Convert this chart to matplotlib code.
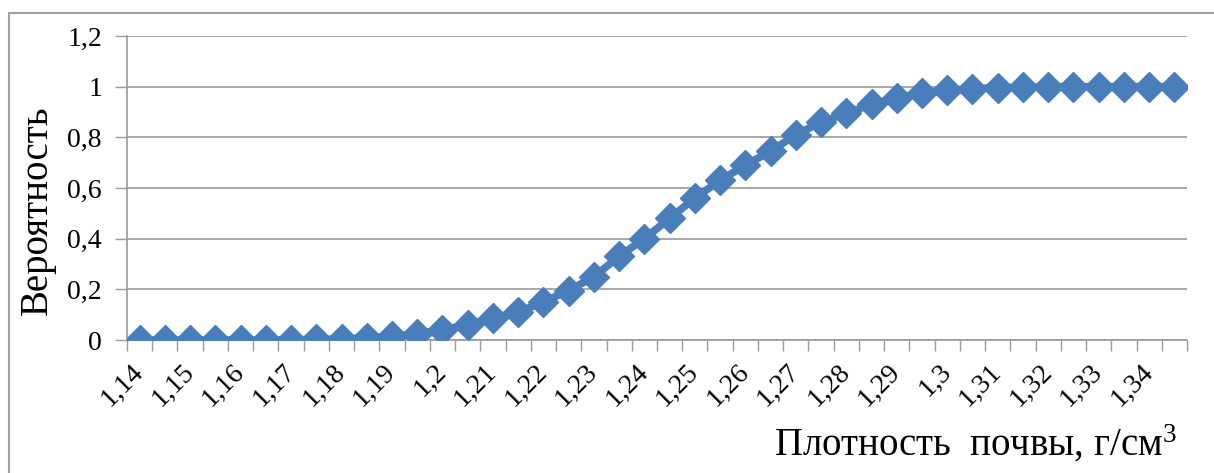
import matplotlib.pyplot as plt
from matplotlib.lines import Line2D
from matplotlib.ticker import FixedLocator, FuncFormatter

plt.rcParams['font.family'] = ['Liberation Serif', 'DejaVu Serif']
plt.rcParams['mathtext.fontset'] = 'custom'
plt.rcParams['mathtext.rm'] = 'Liberation Serif'
plt.rcParams['mathtext.default'] = 'regular'

# плотность почвы, г/см3 (шаг 0,005)
density = [1.14, 1.145, 1.15, 1.155, 1.16, 1.165, 1.17, 1.175, 1.18, 1.185,
           1.19, 1.195, 1.2, 1.205, 1.21, 1.215, 1.22, 1.225, 1.23, 1.235,
           1.24, 1.245, 1.25, 1.255, 1.26, 1.265, 1.27, 1.275, 1.28, 1.285,
           1.29, 1.295, 1.3, 1.305, 1.31, 1.315, 1.32, 1.325, 1.33, 1.335,
           1.34, 1.345]
# вероятность
prob = [0, 0, 0, 0, 0, 0, 0.001, 0.002, 0.004, 0.008,
        0.015, 0.025, 0.04, 0.06, 0.085, 0.11, 0.15, 0.195, 0.25, 0.33,
        0.40, 0.48, 0.56, 0.63, 0.69, 0.745, 0.81, 0.86, 0.895, 0.93,
        0.955, 0.975, 0.985, 0.992, 0.996, 0.998, 0.999, 1.0, 1.0, 1.0,
        1.0, 1.0]
y_ticks = [0, 0.2, 0.4, 0.6, 0.8, 1.0, 1.2]

blue = '#4a7ebb'
grid = '#9a9a9a'

fig = plt.figure(figsize=(12.14, 4.73), dpi=100)
ax = fig.add_axes([127 / 1214, 1 - 340 / 473, 1060 / 1214, 304 / 473])

x = list(range(len(density)))
ax.plot(x, prob, color=blue, lw=5.5, marker='D', ms=15, mec=blue, mfc=blue, zorder=3)

ax.set_xlim(-0.5, len(density) - 0.5)
ax.set_ylim(0, 1.2)

# подписи через одну категорию, засечки на границах категорий
ax.set_xticks(x[::2])
ax.set_xticklabels([f"{d:g}".replace('.', ',') for d in density[::2]],
                   rotation=45, ha='right', va='center', rotation_mode='anchor',
                   fontsize=20)
ax.tick_params(axis='x', which='major', length=0, pad=20)
ax.xaxis.set_minor_locator(FixedLocator([i - 0.5 for i in range(len(density) + 1)]))
ax.tick_params(axis='x', which='minor', length=8, width=1, color=grid)

ax.set_yticks(y_ticks)
ax.yaxis.set_major_formatter(FuncFormatter(lambda v, p: f"{v:g}".replace('.', ',')))
ax.tick_params(axis='y', length=9, width=1, color=grid, pad=9, labelsize=20)
ax.grid(axis='y', color=grid, lw=1.2)
ax.set_axisbelow(True)

for s in ['top', 'right']:
    ax.spines[s].set_visible(False)
ax.spines['left'].set_color(grid)
ax.spines['bottom'].set_color(grid)
ax.spines['left'].set_linewidth(1.2)
ax.spines['bottom'].set_linewidth(1.2)

fig.text(37 / 1214, 1 - 210 / 473, 'Вероятность', rotation=90,
         ha='center', va='center', fontsize=28)
fig.text(1177 / 1214, 1 - 456 / 473, 'Плотность  почвы, г/см$^{3}$',
         ha='right', va='baseline', fontsize=28)

# рамка диаграммы
fig.add_artist(Line2D([9 / 1214, 9 / 1214], [0, 1 - 13 / 473], color='#a0a0a0', lw=1.5))
fig.add_artist(Line2D([9 / 1214, 1], [1 - 13 / 473, 1 - 13 / 473], color='#a0a0a0', lw=1.5))

fig.savefig('out.png', dpi=100)
